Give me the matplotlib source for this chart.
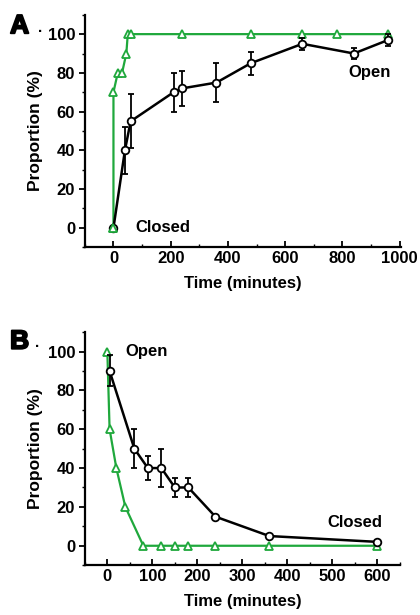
import matplotlib.pyplot as plt
import matplotlib.patheffects as pe
from matplotlib.ticker import MultipleLocator

plt.rcParams['font.family'] = ['Liberation Sans', 'DejaVu Sans']

# Panel A: closed -> open
a_green_x = [0, 0, 15, 30, 45, 50, 60, 240, 480, 660, 780, 960]
a_green_y = [0, 70, 80, 80, 90, 100, 100, 100, 100, 100, 100, 100]
a_black_x = [0, 40, 60, 210, 240, 360, 480, 660, 840, 960]
a_black_y = [0, 40, 55, 70, 72, 75, 85, 95, 90, 97]
a_black_err = [0, 12, 14, 10, 9, 10, 6, 3, 3, 3]

# Panel B: open -> closed
b_green_x = [0, 5, 20, 40, 80, 120, 150, 180, 240, 360, 600]
b_green_y = [100, 60, 40, 20, 0, 0, 0, 0, 0, 0, 0]
b_black_x = [5, 60, 90, 120, 150, 180, 240, 360, 600]
b_black_y = [90, 50, 40, 40, 30, 30, 15, 5, 2]
b_black_err = [8, 10, 6, 10, 5, 5, 1, 1, 1]

green = '#1fa83c'

fig = plt.figure(figsize=(4.2, 6.15), dpi=100)
axA = fig.add_axes([0.202, 0.598, 0.753, 0.378])
axB = fig.add_axes([0.202, 0.081, 0.750, 0.379])


def style(ax, xlim, xticks):
    ax.set_xlim(*xlim)
    ax.set_ylim(-10, 110)
    for s in ['top', 'right']:
        ax.spines[s].set_visible(False)
    for s in ['left', 'bottom']:
        ax.spines[s].set_linewidth(1.6)
    ax.set_xticks(xticks)
    ax.xaxis.set_minor_locator(MultipleLocator((xticks[1] - xticks[0]) / 2))
    ax.set_yticks([0, 20, 40, 60, 80, 100])
    ax.yaxis.set_minor_locator(MultipleLocator(10))
    ax.tick_params(axis='x', which='major', direction='in', length=4, width=1.3)
    ax.tick_params(axis='x', which='minor', direction='in', length=2.5, width=1.0)
    ax.tick_params(axis='y', which='major', direction='out', length=4, width=1.3)
    ax.tick_params(axis='y', which='minor', direction='out', length=2.5, width=1.0)
    ax.tick_params(labelsize=12, pad=3)
    for lab in ax.get_xticklabels() + ax.get_yticklabels():
        lab.set_fontweight('bold')
    ax.set_xlabel('Time (minutes)', fontsize=12, fontweight='bold', labelpad=7)
    ax.set_ylabel('Proportion (%)', fontsize=12.5, fontweight='bold', labelpad=3)


# Panel A
axA.plot(a_green_x, a_green_y, color=green, lw=1.6, marker='^', ms=6,
         mfc='white', mec=green, mew=1.3, zorder=2)
axA.errorbar(a_black_x, a_black_y, yerr=a_black_err, color='black', lw=1.8,
             marker='o', ms=5.5, mfc='white', mec='black', mew=1.3,
             capsize=2.5, elinewidth=1.3, capthick=1.3, zorder=3)
axA.plot(a_green_x[0], a_green_y[0], marker='^', ms=6, mfc='white', mec=green,
         mew=1.3, zorder=4)
style(axA, (-100, 1005), [0, 200, 400, 600, 800, 1000])
axA.text(75, 0, 'Closed', fontsize=12, fontweight='bold', va='center', ha='left')
axA.text(820, 80, 'Open', fontsize=12, fontweight='bold', va='center', ha='left')

# Panel B
axB.plot(b_green_x, b_green_y, color=green, lw=1.6, marker='^', ms=6,
         mfc='white', mec=green, mew=1.3, zorder=2)
axB.errorbar(b_black_x, b_black_y, yerr=b_black_err, color='black', lw=1.8,
             marker='o', ms=5.5, mfc='white', mec='black', mew=1.3,
             capsize=2.5, elinewidth=1.3, capthick=1.3, zorder=3)
style(axB, (-50, 650), [0, 100, 200, 300, 400, 500, 600])
axB.text(40, 100, 'Open', fontsize=12, fontweight='bold', va='center', ha='left')
axB.text(490, 12, 'Closed', fontsize=12, fontweight='bold', va='center', ha='left')

heavy = [pe.Stroke(linewidth=1.4, foreground='black'), pe.Normal()]
fig.text(0.024, 0.946, 'A', fontsize=19, fontweight='bold', va='baseline',
         path_effects=heavy)
fig.text(0.090, 0.948, '.', fontsize=11, fontweight='bold', va='baseline')
fig.text(0.024, 0.433, 'B', fontsize=19, fontweight='bold', va='baseline',
         path_effects=heavy)
fig.text(0.083, 0.435, '.', fontsize=11, fontweight='bold', va='baseline')

fig.savefig('out.png', dpi=100)
